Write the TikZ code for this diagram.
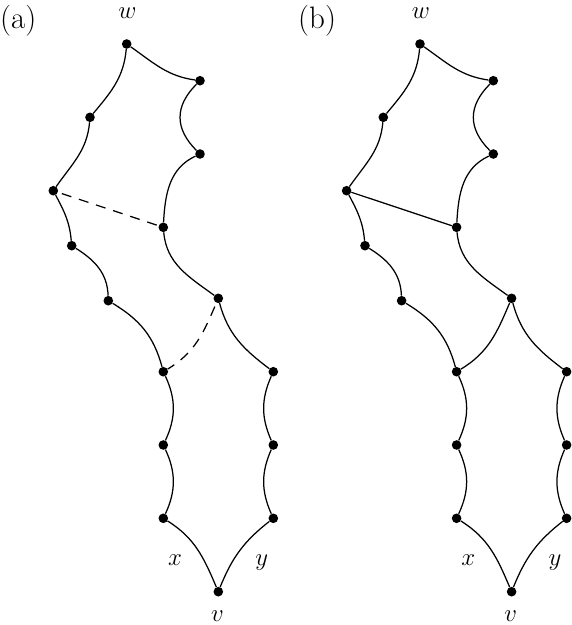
\documentclass[tikz,border=0pt]{standalone}
\begin{document}
\begin{tikzpicture}[x=1pt,y=1pt,
  vdot/.style={circle,fill=black,inner sep=0pt,minimum size=9.6pt},
  edge/.style={line width=1.25pt},
  dashedge/.style={line width=1.25pt,dash pattern=on 10pt off 8pt,dash phase=14pt},
  mlab/.style={inner sep=0pt,anchor=base,font=\fontsize{25}{30}\selectfont},
  plab/.style={inner sep=0pt,anchor=base west,font=\fontsize{31}{36}\selectfont}]
\useasboundingbox (0,0) rectangle (572,-625);

\newcommand\drawpanel[3]{%
\begin{scope}[xshift=#2]
\node[vdot] (#1w)  at (126.7,-44)   {};
\node[vdot] (#1r1) at (200,-80.7)   {};
\node[vdot] (#1r2) at (200,-154)    {};
\node[vdot] (#1l1) at (90,-117.3)   {};
\node[vdot] (#1l2) at (53.3,-190.7) {};
\node[vdot] (#1m)  at (163.3,-227.3){};
\node[vdot] (#1l3) at (71.7,-245.7) {};
\node[vdot] (#1l4) at (108.3,-300.7){};
\node[vdot] (#1r3) at (218.3,-298.3){};
\node[vdot] (#1x1) at (163.3,-371.7){};
\node[vdot] (#1y1) at (273.3,-371.7){};
\node[vdot] (#1x2) at (163.3,-445)  {};
\node[vdot] (#1y2) at (273.3,-445)  {};
\node[vdot] (#1x3) at (163.3,-518.3){};
\node[vdot] (#1y3) at (273.3,-518.3){};
\node[vdot] (#1v)  at (218.3,-591.7){};
\node[mlab] (#1wl) at (127.5,-18.5) {$w$};
\node[mlab] (#1xl) at (175,-565) {$x$};
\node[mlab] (#1yl) at (261.7,-565) {$y$};
\node[mlab] (#1vl) at (217.5,-621) {$v$};
\draw[edge] (#1w) to[out=-35,in=172] (#1r1);
\draw[edge] (#1w) to[out=-95,in=50] (#1l1);
\draw[edge] (#1l1) to[out=-95,in=55] (#1l2);
\draw[edge] (#1l2) to[out=-62,in=95] (#1l3);
\draw[edge] (#1l3) to[out=-32,in=92] (#1l4);
\draw[edge] (#1l4) to[out=-31,in=105] (#1x1);
\draw[edge] (#1x1) to[out=-65,in=65] (#1x2);
\draw[edge] (#1x2) to[out=-65,in=65] (#1x3);
\draw[edge] (#1x3) to[out=-32,in=113] (#1v);
\draw[edge] (#1v) to[out=68,in=218] (#1y3);
\draw[edge] (#1y3) to[out=114,in=-114] (#1y2);
\draw[edge] (#1y2) to[out=114,in=-114] (#1y1);
\draw[edge] (#1y1) to[out=143,in=-75] (#1r3);
\draw[edge] (#1r3) to[out=144,in=-85] (#1m);
\draw[edge] (#1m) to[out=87,in=205] (#1r2);
\draw[edge] (#1r2) to[out=135,in=225,looseness=1.2] (#1r1);
\draw[#3] (#1l2) -- (#1m);
\draw[#3] (#1r3) to[out=-113,in=31] (#1x1);
\end{scope}}

\drawpanel{a}{0}{dashedge}
\drawpanel{b}{293.3}{edge}
\node[plab] (la) at (0,-28) {(a)};
\node[plab] (lb) at (298,-28) {(b)};
\end{tikzpicture}
\end{document}
